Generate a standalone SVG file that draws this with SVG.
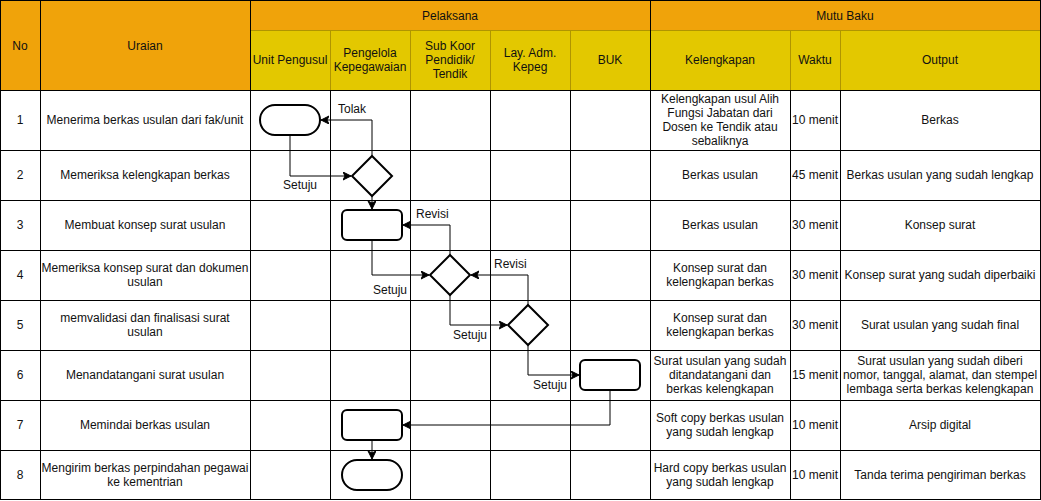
<svg xmlns="http://www.w3.org/2000/svg" width="1041" height="501" viewBox="0 0 1041 501">
<style>
text{font-family:"Liberation Sans",Arial,sans-serif;font-size:12px;fill:#111;text-anchor:middle}
.l{text-anchor:start}
.grid{stroke:#000;stroke-width:1;fill:none}
.hy{stroke:#B09500;stroke-width:1}
.shape{fill:#fff;stroke:#000;stroke-width:2}
.conn{fill:none;stroke:#000;stroke-width:1}
</style>
<defs>
<marker id="arr" markerUnits="userSpaceOnUse" markerWidth="10" markerHeight="10" refX="8" refY="4" orient="auto">
<path d="M0,0 L8,4 L0,8 L2,4 Z" fill="#000" stroke="#000" stroke-width="1"/>
</marker>
</defs>
<rect width="1041" height="501" fill="#fff"/>
<g id="table">
<rect x="0.5" y="0.5" width="250" height="90" fill="#F0A30A"/>
<rect x="250.5" y="0.5" width="790" height="30" fill="#F0A30A"/>
<rect x="250.5" y="30.5" width="790" height="60" fill="#E3C800"/>
<g class="hy">
<line x1="330.5" y1="30.5" x2="330.5" y2="90.5"/>
<line x1="410.5" y1="30.5" x2="410.5" y2="90.5"/>
<line x1="490.5" y1="30.5" x2="490.5" y2="90.5"/>
<line x1="570.5" y1="30.5" x2="570.5" y2="90.5"/>
<line x1="790.5" y1="30.5" x2="790.5" y2="90.5"/>
<line x1="840.5" y1="30.5" x2="840.5" y2="90.5"/>
<line x1="250.5" y1="30.5" x2="1040.5" y2="30.5"/>
</g>
<g class="grid">
<rect x="0.5" y="0.5" width="1040" height="499"/>
<line x1="40.5" y1="0.5" x2="40.5" y2="500"/>
<line x1="250.5" y1="0.5" x2="250.5" y2="500"/>
<line x1="650.5" y1="0.5" x2="650.5" y2="500"/>
<line x1="330.5" y1="90.5" x2="330.5" y2="500"/>
<line x1="410.5" y1="90.5" x2="410.5" y2="500"/>
<line x1="490.5" y1="90.5" x2="490.5" y2="500"/>
<line x1="570.5" y1="90.5" x2="570.5" y2="500"/>
<line x1="790.5" y1="90.5" x2="790.5" y2="500"/>
<line x1="840.5" y1="90.5" x2="840.5" y2="500"/>
<line x1="0.5" y1="90.5" x2="1040.5" y2="90.5"/>
<line x1="0.5" y1="150.5" x2="1040.5" y2="150.5"/>
<line x1="0.5" y1="200.5" x2="1040.5" y2="200.5"/>
<line x1="0.5" y1="250.5" x2="1040.5" y2="250.5"/>
<line x1="0.5" y1="300.5" x2="1040.5" y2="300.5"/>
<line x1="0.5" y1="350.5" x2="1040.5" y2="350.5"/>
<line x1="0.5" y1="400.5" x2="1040.5" y2="400.5"/>
<line x1="0.5" y1="450.5" x2="1040.5" y2="450.5"/>
</g>
<text x="20" y="50">No</text>
<text x="145" y="50">Uraian</text>
<text x="450" y="20">Pelaksana</text>
<text x="845" y="20">Mutu Baku</text>
<text x="290" y="64">Unit Pengusul</text>
<text x="370" y="57">Pengelola</text>
<text x="370" y="71">Kepegawaian</text>
<text x="450" y="50">Sub Koor</text>
<text x="450" y="64">Pendidik/</text>
<text x="450" y="78">Tendik</text>
<text x="530" y="57">Lay. Adm.</text>
<text x="530" y="71">Kepeg</text>
<text x="610" y="64">BUK</text>
<text x="720" y="64">Kelengkapan</text>
<text x="815" y="64">Waktu</text>
<text x="940" y="64">Output</text>

<text x="20" y="124">1</text>
<text x="145" y="124">Menerima berkas usulan dari fak/unit</text>
<text x="720" y="103">Kelengkapan usul Alih</text>
<text x="720" y="117">Fungsi Jabatan dari</text>
<text x="720" y="131">Dosen ke Tendik atau</text>
<text x="720" y="145">sebaliknya</text>
<text x="815" y="124">10 menit</text>
<text x="940" y="124">Berkas</text>

<text x="20" y="179">2</text>
<text x="145" y="179">Memeriksa kelengkapan berkas</text>
<text x="720" y="179">Berkas usulan</text>
<text x="815" y="179">45 menit</text>
<text x="940" y="179">Berkas usulan yang sudah lengkap</text>

<text x="20" y="229">3</text>
<text x="145" y="229">Membuat konsep surat usulan</text>
<text x="720" y="229">Berkas usulan</text>
<text x="815" y="229">30 menit</text>
<text x="940" y="229">Konsep surat</text>

<text x="20" y="279">4</text>
<text x="145" y="272">Memeriksa konsep surat dan dokumen</text>
<text x="145" y="286">usulan</text>
<text x="720" y="272">Konsep surat dan</text>
<text x="720" y="286">kelengkapan berkas</text>
<text x="815" y="279">30 menit</text>
<text x="940" y="279">Konsep surat yang sudah diperbaiki</text>

<text x="20" y="329">5</text>
<text x="145" y="322">memvalidasi dan finalisasi surat</text>
<text x="145" y="336">usulan</text>
<text x="720" y="322">Konsep surat dan</text>
<text x="720" y="336">kelengkapan berkas</text>
<text x="815" y="329">30 menit</text>
<text x="940" y="329">Surat usulan yang sudah final</text>

<text x="20" y="379">6</text>
<text x="145" y="379">Menandatangani surat usulan</text>
<text x="720" y="365">Surat usulan yang sudah</text>
<text x="720" y="379">ditandatangani dan</text>
<text x="720" y="393">berkas kelengkapan</text>
<text x="815" y="379">15 menit</text>
<text x="940" y="365">Surat usulan yang sudah diberi</text>
<text x="940" y="379">nomor, tanggal, alamat, dan stempel</text>
<text x="940" y="393">lembaga serta berkas kelengkapan</text>

<text x="20" y="429">7</text>
<text x="145" y="429">Memindai berkas usulan</text>
<text x="720" y="422">Soft copy berkas usulan</text>
<text x="720" y="436">yang sudah lengkap</text>
<text x="815" y="429">10 menit</text>
<text x="940" y="429">Arsip digital</text>

<text x="20" y="479">8</text>
<text x="145" y="472">Mengirim berkas perpindahan pegawai</text>
<text x="145" y="486">ke kementrian</text>
<text x="720" y="472">Hard copy berkas usulan</text>
<text x="720" y="486">yang sudah lengkap</text>
<text x="815" y="479">10 menit</text>
<text x="940" y="479">Tanda terima pengiriman berkas</text>
</g>

<g id="connectors">
<path class="conn" d="M372,156 V120 H321" marker-end="url(#arr)"/>
<path class="conn" d="M290,135 V176 H351" marker-end="url(#arr)"/>
<path class="conn" d="M372,196 V209" marker-end="url(#arr)"/>
<path class="conn" d="M450,255 V225 H403" marker-end="url(#arr)"/>
<path class="conn" d="M372,240 V275 H429" marker-end="url(#arr)"/>
<path class="conn" d="M528,305 V275 H471" marker-end="url(#arr)"/>
<path class="conn" d="M450,295 V325 H507" marker-end="url(#arr)"/>
<path class="conn" d="M528,345 V375 H579" marker-end="url(#arr)"/>
<path class="conn" d="M610,390 V425 H403" marker-end="url(#arr)"/>
<path class="conn" d="M372,440 V459" marker-end="url(#arr)"/>
<text class="l" x="338" y="113">Tolak</text>
<text class="l" x="283" y="189">Setuju</text>
<text class="l" x="416" y="218">Revisi</text>
<text class="l" x="373" y="294">Setuju</text>
<text class="l" x="494" y="268">Revisi</text>
<text class="l" x="453" y="339">Setuju</text>
<text class="l" x="533" y="389">Setuju</text>
</g>

<g id="n1"><rect class="shape" x="260" y="105" width="60" height="30" rx="15"/></g>
<g id="n2"><path class="shape" d="M372,156 L392,176 L372,196 L352,176 Z"/></g>
<g id="n3"><rect class="shape" x="342" y="210" width="60" height="30" rx="5"/></g>
<g id="n4"><path class="shape" d="M450,255 L470,275 L450,295 L430,275 Z"/></g>
<g id="n5"><path class="shape" d="M528,305 L548,325 L528,345 L508,325 Z"/></g>
<g id="n6"><rect class="shape" x="580" y="360" width="60" height="30" rx="5"/></g>
<g id="n7"><rect class="shape" x="342" y="410" width="60" height="30" rx="5"/></g>
<g id="n8"><rect class="shape" x="342" y="460" width="60" height="30" rx="15"/></g>
</svg>
